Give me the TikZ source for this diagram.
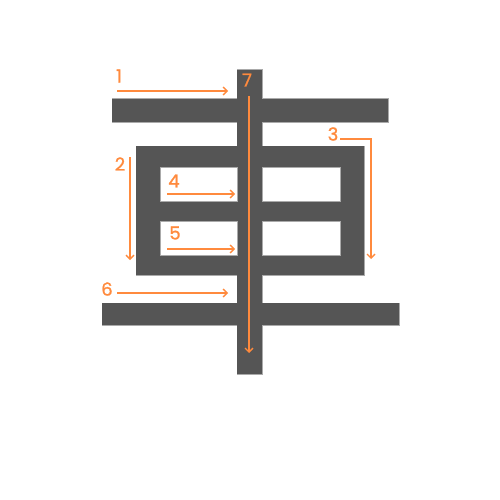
\documentclass[tikz,border=0pt]{standalone}
\usepackage{fontspec}
\setmainfont{Poppins}
\newfontfamily\numfont[FakeBold=1.2]{Poppins}
\usetikzlibrary{arrows.meta}
\definecolor{strokegray}{HTML}{555555}
\definecolor{edgegray}{HTML}{AAAAAA}
\definecolor{ordercol}{HTML}{FF8A3D}
\tikzset{
  glyphedge/.style={fill=strokegray, draw=edgegray, line width=1pt},
  glyphfill/.style={fill=strokegray},
  hole/.style={fill=white, draw=edgegray, line width=0.6pt},
  orderline/.style={draw=ordercol, line width=1.4pt, -{Straight Barb[length=4pt,width=8pt,line width=1.4pt]}},
  ordernum/.style={text=ordercol, font=\numfont\fontsize{18}{18}\selectfont, inner sep=0pt}
}
\begin{document}
\begin{tikzpicture}[x=1pt,y=-1pt]
\useasboundingbox (0,0) rectangle (500,500);
% glyph outline layer
\foreach \a/\b/\c/\d in {237/70/262/374, 112/99/388/122, 136/146/364/275, 102/303/399/325}
  \path[glyphedge] (\a,\b) rectangle (\c,\d);
\foreach \a/\b/\c/\d in {237/70/262/374, 112/99/388/122, 136/146/364/275, 102/303/399/325}
  \path[glyphfill] (\a,\b) rectangle (\c,\d);
% openings
\path[hole] (160,167) rectangle (237,201);
\path[hole] (160,221) rectangle (237,255);
\path[hole] (262,167) rectangle (340,201);
\path[hole] (262,221) rectangle (340,255);
% stroke order coordinates
\coordinate (s1a) at (117,91);   \coordinate (s1b) at (228,91);
\coordinate (s2a) at (130,157);  \coordinate (s2b) at (130,260);
\coordinate (s3a) at (340,139);  \coordinate (s3m) at (371,139); \coordinate (s3b) at (371,259);
\coordinate (s4a) at (167,194);  \coordinate (s4b) at (235,194);
\coordinate (s5a) at (167,249);  \coordinate (s5b) at (235,249);
\coordinate (s6a) at (117,293);  \coordinate (s6b) at (228,293);
\coordinate (s7a) at (249,96);   \coordinate (s7b) at (249,353);
\draw[orderline] (s1a) -- (s1b);
\draw[orderline] (s2a) -- (s2b);
\draw[orderline] (s3a) -- (s3m) -- (s3b);
\draw[orderline] (s4a) -- (s4b);
\draw[orderline] (s5a) -- (s5b);
\draw[orderline] (s6a) -- (s6b);
\draw[orderline] (s7a) -- (s7b);
% numbers
\node[ordernum] (n1) at (119,76) {1};
\node[ordernum] (n2) at (120,164) {2};
\node[ordernum] (n3) at (333,134) {3};
\node[ordernum] (n4) at (174,181) {4};
\node[ordernum] (n5) at (175,233) {5};
\node[ordernum] (n6) at (107,289) {6};
\node[ordernum] (n7) at (247,80) {7};
\end{tikzpicture}
\end{document}
